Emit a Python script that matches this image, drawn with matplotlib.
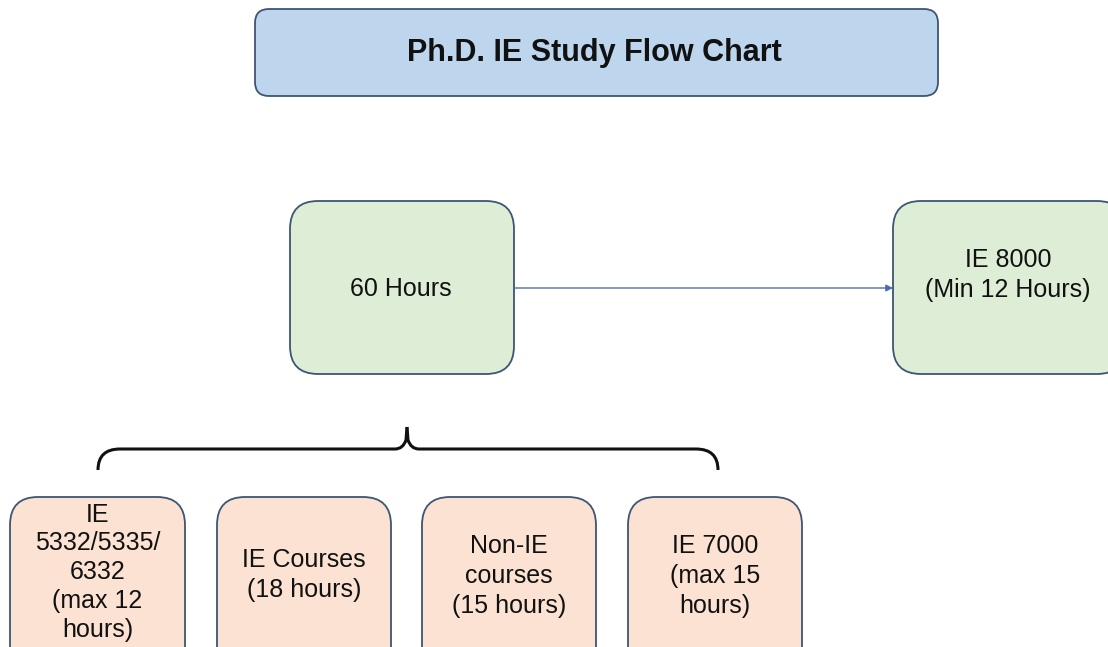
import matplotlib
matplotlib.use("Agg")
import matplotlib.pyplot as plt
from matplotlib import font_manager
from matplotlib.patches import FancyBboxPatch, PathPatch
from matplotlib.path import Path

plt.rcParams['font.family'] = ['Liberation Sans', 'DejaVu Sans']

title = "Ph.D. IE Study Flow Chart"
top_labels = ["60 Hours", "IE 8000\n(Min 12 Hours)"]
bottom_labels = ["IE\n5332/5335/\n6332\n(max 12\nhours)",
                 "IE Courses\n(18 hours)",
                 "Non-IE\ncourses\n(15 hours)",
                 "IE 7000\n(max 15\nhours)"]

names = {f.name for f in font_manager.fontManager.ttflist}
if 'Liberation Sans Narrow' in names:
    body_family = ['Liberation Sans Narrow', 'DejaVu Sans']
    body_size = 21
else:
    body_family = ['Liberation Sans', 'DejaVu Sans']
    body_size = 18

W, H = 1108, 647
fig = plt.figure(figsize=(W / 100, H / 100), dpi=100)
ax = fig.add_axes([0, 0, 1, 1])
ax.set_xlim(0, W)
ax.set_ylim(H, 0)
ax.axis('off')

def box(x0, y0, x1, y1, fc, ec, r, lw=1.3):
    p = FancyBboxPatch((x0 + r, y0 + r), (x1 - x0) - 2 * r, (y1 - y0) - 2 * r,
                       boxstyle=f"round,pad={r},rounding_size={r}",
                       fc=fc, ec=ec, lw=lw)
    ax.add_patch(p)

edge = '#3e5573'

# title box
box(255, 9, 938, 96, '#bdd6ee', edge, 14)
ax.text(594, 53, title, ha='center', va='center', fontsize=22, fontweight='bold',
        color='#111111', family=['Liberation Sans', 'DejaVu Sans'])

# top boxes
green_fc = '#deedd5'
box(290, 201, 514, 374, green_fc, edge, 28)
box(893, 201, 1125, 374, green_fc, edge, 28)
ax.text(401, 289, top_labels[0], ha='center', va='center', fontsize=body_size,
        color='#111111', family=body_family)
ax.text(1008, 275, top_labels[1], ha='center', va='center', fontsize=body_size,
        color='#111111', family=body_family, linespacing=1.3)

# arrow
ax.annotate('', xy=(893, 288), xytext=(514, 288),
            arrowprops=dict(arrowstyle='-|>', color='#4a6fa8', lw=1.0,
                            mutation_scale=10, shrinkA=0, shrinkB=0))

# brace
lx, rx, cx = 98, 718, 407
yb, yh, yp = 470, 449, 427
rr = 22
codes = [Path.MOVETO, Path.CURVE3, Path.CURVE3, Path.LINETO,
         Path.LINETO, Path.CURVE3, Path.CURVE3, Path.LINETO]
verts = [(lx, yb), (lx, yh), (lx + rr, yh), (lx + rr, yh),
         (cx - 12, yh), (cx - 4, yh), (cx - 1, yh - 9), (cx, yp)]
ax.add_patch(PathPatch(Path(verts, codes), fc='none', ec='#111111', lw=2.2, capstyle='butt'))
verts2 = [(rx, yb), (rx, yh), (rx - rr, yh), (rx - rr, yh),
          (cx + 12, yh), (cx + 4, yh), (cx + 1, yh - 9), (cx, yp)]
ax.add_patch(PathPatch(Path(verts2, codes), fc='none', ec='#111111', lw=2.2, capstyle='butt'))

# bottom boxes
peach_fc = '#fbe2d2'
xs = [(10, 185), (217, 391), (422, 596), (628, 802)]
centers_y = [572, 575, 576, 576]
spacings = [1.25, 1.3, 1.3, 1.3]
for (x0, x1), lab, cy, ls in zip(xs, bottom_labels, centers_y, spacings):
    box(x0, 497, x1, 680, peach_fc, edge, 28)
    ax.text((x0 + x1) / 2, cy, lab, ha='center', va='center', fontsize=body_size,
            color='#111111', family=body_family, linespacing=ls)

fig.savefig('out.png', dpi=100, facecolor='white')
